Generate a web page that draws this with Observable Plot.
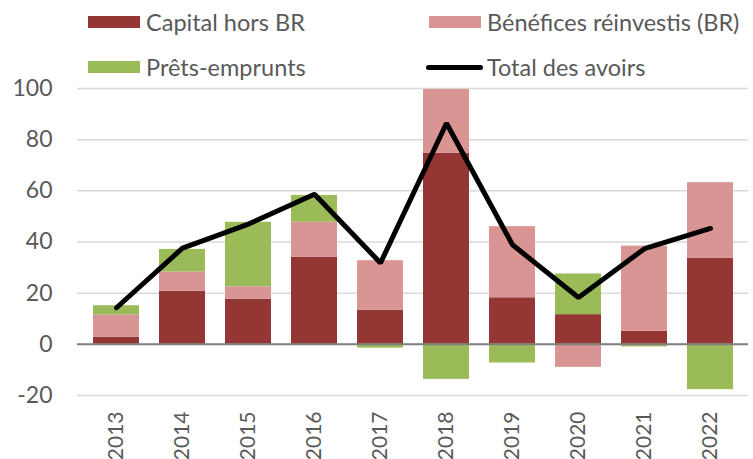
<!DOCTYPE html>
<html><head><meta charset="utf-8">
<script src="https://cdn.jsdelivr.net/npm/d3@7"></script>
<script src="https://cdn.jsdelivr.net/npm/@observablehq/plot@0.6"></script>
<style>
body{margin:0;background:#fff;}
#wrap{position:relative;width:753px;height:459px;font-family:Lato,"Open Sans",sans-serif;}
.lg{position:absolute;font-size:23.5px;color:#595959;white-space:nowrap;line-height:30px;}
.sw{position:absolute;}
</style></head>
<body><div id="wrap"></div>
<script>
const years = ["2013","2014","2015","2016","2017","2018","2019","2020","2021","2022"];
const capital = [2.7, 20.8, 17.7, 34.0, 13.3, 74.7, 18.2, 11.6, 5.1, 33.6];
const benefices = [8.8, 7.5, 4.8, 13.7, 19.4, 24.9, 27.8, -9.0, 33.3, 29.6];
const prets = [3.6, 8.8, 25.2, 10.5, -1.5, -13.7, -7.3, 15.9, -1.0, -17.7];
const total = [14.3, 37.6, 47.0, 58.7, 31.8, 86.4, 38.9, 18.3, 37.4, 45.3];
const seriesNames = ["Capital hors BR", "Bénéfices réinvestis (BR)", "Prêts-emprunts"];
const colors = ["#943634", "#D99594", "#9BBB59"];
const yTicks = [-20, 0, 20, 40, 60, 80, 100];

const rows = [];
years.forEach((y, i) => {
  rows.push({year: y, serie: seriesNames[0], value: capital[i]});
  rows.push({year: y, serie: seriesNames[1], value: benefices[i]});
  rows.push({year: y, serie: seriesNames[2], value: prets[i]});
});
const lineData = years.map((y, i) => ({year: y, value: total[i]}));

const chart = Plot.plot({
  width: 753, height: 459,
  marginTop: 88, marginBottom: 64, marginLeft: 77, marginRight: 5,
  style: {fontFamily: "Lato, 'Open Sans', sans-serif", background: "#fff"},
  x: {domain: years, paddingInner: 0.31, paddingOuter: 0.17, label: null},
  y: {domain: [-20, 100], label: null},
  color: {domain: seriesNames, range: colors},
  marks: [
    Plot.ruleY(yTicks, {stroke: "#d9d9d9", strokeWidth: 1.5}),
    Plot.barY(rows, Plot.stackY({x: "year", y: "value", fill: "serie", order: seriesNames})),
    Plot.ruleY([0], {stroke: "#808080", strokeWidth: 2}),
    Plot.line(lineData, {x: "year", y: "value", stroke: "#000", strokeWidth: 5, strokeLinejoin: "miter", strokeLinecap: "round"}),
    Plot.axisY(yTicks, {tickSize: 0, tickPadding: 25, fontSize: 23, fill: "#595959", label: null, tickFormat: d => String(d)}),
    Plot.axisX({tickSize: 0, tickPadding: 16, tickRotate: -90, fontSize: 21, fill: "#595959", label: null})
  ]
});
const wrap = document.getElementById("wrap");
wrap.appendChild(chart);

const legend = [
  {name: seriesNames[0], color: colors[0], x: 88, cy: 22, type: "rect"},
  {name: seriesNames[1], color: colors[1], x: 429, cy: 22, type: "rect"},
  {name: seriesNames[2], color: colors[2], x: 88, cy: 67, type: "rect"},
  {name: "Total des avoirs", color: "#000", x: 426, cy: 67, type: "line"}
];
legend.forEach(l => {
  const sw = document.createElement("div");
  sw.className = "sw";
  sw.style.left = l.x + "px";
  sw.style.background = l.color;
  if (l.type === "rect") { sw.style.width = "52px"; sw.style.top = (l.cy - 6) + "px"; sw.style.height = "12px"; }
  else { sw.style.width = "57px"; sw.style.top = (l.cy - 2.5) + "px"; sw.style.height = "5px"; sw.style.borderRadius = "2.5px"; }
  wrap.appendChild(sw);
  const t = document.createElement("div");
  t.className = "lg";
  t.style.left = (l.type === "rect" ? l.x + 58 : l.x + 61) + "px";
  t.style.top = (l.cy - 15) + "px";
  t.textContent = l.name;
  wrap.appendChild(t);
});
const svg = wrap.querySelector("svg");
svg.style.position = "absolute"; svg.style.left = "0"; svg.style.top = "0";
</script></body></html>
